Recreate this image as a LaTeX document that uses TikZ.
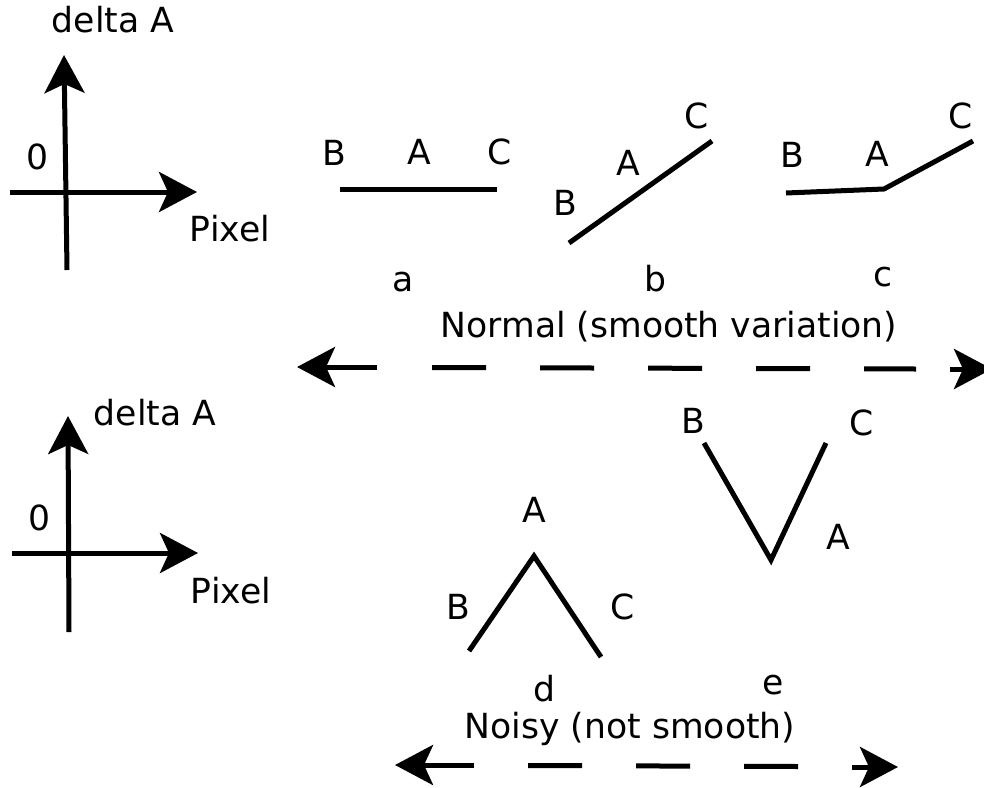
\documentclass[tikz,border=0pt]{standalone}
\usepackage{fontspec}
\setmainfont{DejaVu Sans}
\usetikzlibrary{arrows.meta}
\begin{document}
\begin{tikzpicture}[x=1pt,y=-1pt,
  lbl/.style={inner sep=0pt, font=\fontsize{34.6}{40}\selectfont},
  ln/.style={line width=5pt, line cap=butt, line join=miter},
  big/.style={-{Stealth[length=38pt,width=40pt,inset=9pt]}},
  dsh/.style={ln, dash pattern=on 54pt off 54pt}]
\useasboundingbox (0,0) rectangle (984,787);
% top axes
\coordinate (t1) at (67,270); \coordinate (t2) at (64,55);
\coordinate (h1) at (10,192); \coordinate (h2) at (197,192);
\draw[ln,big] (t1) -- (t2);
\draw[ln,big] (h1) -- (h2);
\node[lbl] (dA1) at (113,20) {delta A};
\node[lbl] (z1) at (38,157) {0};
\node[lbl] (px1) at (230,229) {Pixel};
% bottom axes
\coordinate (u1) at (69,632); \coordinate (u2) at (68,416);
\coordinate (k1) at (12,553); \coordinate (k2) at (198,553);
\draw[ln,big] (u1) -- (u2);
\draw[ln,big] (k1) -- (k2);
\node[lbl] (dA2) at (155,413) {delta A};
\node[lbl] (z2) at (40,518) {0};
\node[lbl] (px2) at (231,591) {Pixel};
% panel a
\coordinate (aB) at (340,189); \coordinate (aC) at (497,189);
\draw[ln] (aB) -- (aC);
\node[lbl] at (334,153) {B};
\node[lbl] at (419,152) {A};
\node[lbl] at (500,152) {C};
\node[lbl] (la) at (403,282) {a};
% panel b
\coordinate (bB) at (569,243); \coordinate (bC) at (712,141);
\draw[ln] (bB) -- (bC);
\node[lbl] at (565,203) {B};
\node[lbl] at (628,163) {A};
\node[lbl] at (697,116) {C};
\node[lbl] (lb) at (655,279) {b};
% panel c
\coordinate (cB) at (786,193); \coordinate (cA) at (884,189); \coordinate (cC) at (973,141);
\draw[ln] (cB) -- (cA) -- (cC);
\node[lbl] at (792,155) {B};
\node[lbl] at (877,154) {A};
\node[lbl] at (961,116) {C};
\node[lbl] (lc) at (883,277) {c};
\node[lbl] (normal) at (669,327) {Normal (smooth variation)};
% top dashed arrow
\coordinate (n0) at (297,367); \coordinate (n1) at (377,367);
\coordinate (n2) at (432,367.5); \coordinate (n3) at (916,369);
\coordinate (n4) at (950,369); \coordinate (n5) at (992,369);
\draw[ln,big] (n1) -- (n0);
\draw[dsh] (n2) -- (n3);
\draw[ln,big] (n4) -- (n5);
% panel d
\coordinate (dB) at (469,651); \coordinate (dA) at (534,556); \coordinate (dC) at (601,657);
\draw[ln] (dB) -- (dA) -- (dC);
\node[lbl] at (458,607) {B};
\node[lbl] at (534,510) {A};
\node[lbl] at (623,607) {C};
\node[lbl] (ld) at (544,689) {d};
% panel e
\coordinate (eB) at (704,443); \coordinate (eA) at (771,560); \coordinate (eC) at (826,443);
\draw[ln] (eB) -- (eA) -- (eC);
\node[lbl] at (693,421) {B};
\node[lbl] at (862,423) {C};
\node[lbl] at (838,537) {A};
\node[lbl] (le) at (773,685) {e};
\node[lbl] (noisy) at (630,729) {Noisy (not smooth)};
% bottom dashed arrow
\coordinate (m0) at (395,765); \coordinate (m1) at (474,765);
\coordinate (m2) at (528,765.5); \coordinate (m3) at (798,766.5);
\coordinate (m4) at (852,767); \coordinate (m5) at (898,767);
\draw[ln,big] (m1) -- (m0);
\draw[dsh] (m2) -- (m3);
\draw[ln,big] (m4) -- (m5);
\end{tikzpicture}
\end{document}
